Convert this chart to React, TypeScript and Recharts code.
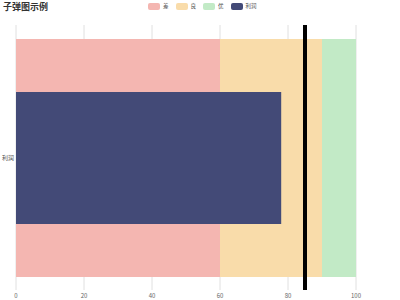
import { BarChart, Bar, XAxis, YAxis, CartesianGrid, ReferenceLine } from 'recharts';

const categories = ['利润'];
const rangeNames = ['差', '良', '优'];
const rangeValues = [60, 30, 10];
const rangeColors = ['#f4b6b1', '#f9dcaa', '#c2eac6'];
const actualValues = [78];
const targetValue = 85;
const xTicks = [0, 20, 40, 60, 80, 100];

const actualColor = '#434a77';
const font = '"Noto Sans CJK SC", "Noto Sans", sans-serif';

export default function App() {
    // one row per category: stacked ranges + actual value
    const data = categories.map((name, i) => {
        const row: Record<string, string | number> = { name, actual: actualValues[i] };
        rangeNames.forEach((r, j) => { row[r] = rangeValues[j]; });
        return row;
    });

    const legendItems = [
        ...rangeNames.map((n, i) => ({ name: n, color: rangeColors[i] })),
        { name: categories[0], color: actualColor },
    ];

    return (
        <div style={{ position: 'absolute', left: 0, top: 0, width: 400, height: 300, fontFamily: font, background: '#fff' }}>
            <div style={{ position: 'absolute', left: 3, top: 0, fontSize: 9, fontWeight: 'bold', color: '#333', lineHeight: '14px' }}>
                子弹图示例
            </div>
            <div style={{ position: 'absolute', left: 148, top: 2, display: 'flex', alignItems: 'center', fontSize: 5.5, color: '#555', lineHeight: '8px' }}>
                {legendItems.map(item => (
                    <div key={item.name} style={{ display: 'flex', alignItems: 'center', marginRight: 7 }}>
                        <span style={{ display: 'inline-block', width: 12, height: 7, borderRadius: 2, background: item.color, marginRight: 3 }} />
                        <span>{item.name}</span>
                    </div>
                ))}
            </div>
            <BarChart
                width={400}
                height={300}
                data={data}
                layout="vertical"
                margin={{ top: 25, right: 44, bottom: 0, left: 0 }}
            >
                <CartesianGrid horizontal={false} stroke="#e0e0e0" />
                <XAxis
                    type="number"
                    domain={[0, 100]}
                    ticks={xTicks}
                    axisLine={false}
                    tickLine={false}
                    height={10}
                    tickMargin={0}
                    tick={{ fill: '#666', fontSize: 6, fontFamily: font, dy: -2 }}
                />
                <YAxis
                    yAxisId="a"
                    type="category"
                    dataKey="name"
                    width={16}
                    axisLine={false}
                    tickLine={false}
                    tickSize={0}
                    tickMargin={2}
                    tick={{ fill: '#555', fontSize: 6, fontFamily: font }}
                />
                <YAxis yAxisId="b" type="category" dataKey="name" hide />
                {rangeNames.map((r, i) => (
                    <Bar key={r} yAxisId="a" dataKey={r} stackId="range" fill={rangeColors[i]} barSize={238} isAnimationActive={false} />
                ))}
                <Bar yAxisId="b" dataKey="actual" fill={actualColor} barSize={132} isAnimationActive={false} />
                <ReferenceLine yAxisId="a" x={targetValue} stroke="#000" strokeWidth={4} />
            </BarChart>
        </div>
    );
}
